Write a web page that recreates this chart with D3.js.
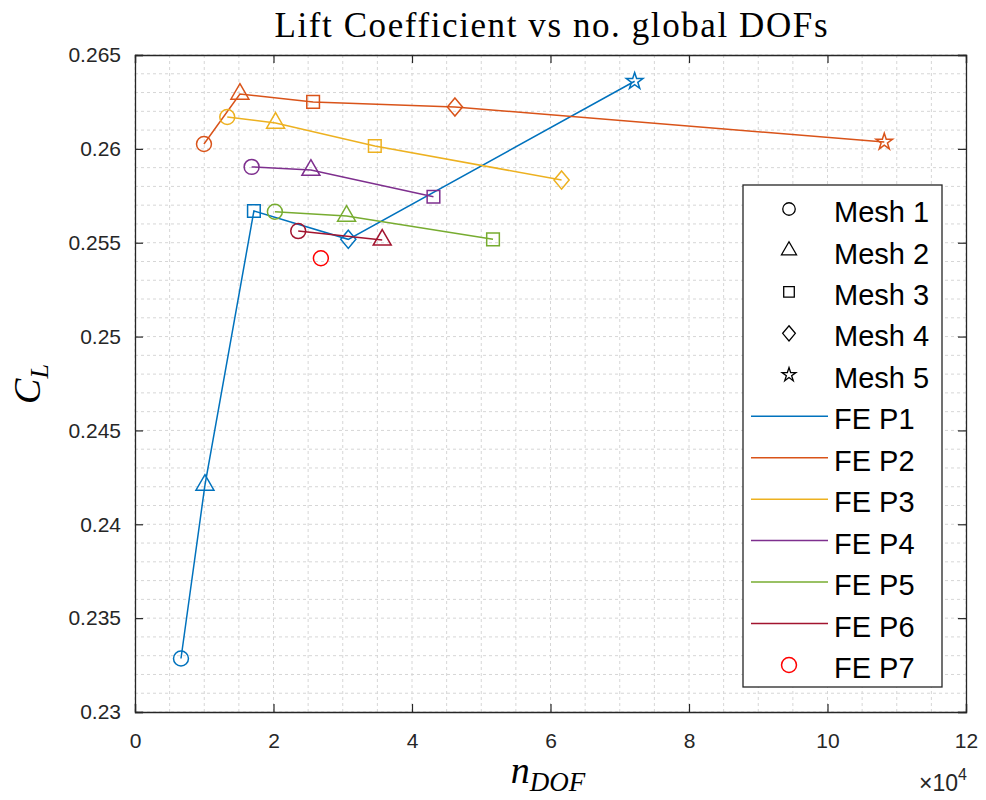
<!DOCTYPE html>
<html>
<head>
<meta charset="utf-8">
<script src="https://cdn.jsdelivr.net/npm/d3@7"></script>
<style>
  html, body { margin: 0; padding: 0; background: #fff; }
  svg { display: block; }
</style>
</head>
<body>
<svg id="chart" width="986" height="800"></svg>
<script>
// Lift coefficient against number of global DOFs, per FE order and mesh level
const seriesNames = ["FE P1", "FE P2", "FE P3", "FE P4", "FE P5", "FE P6", "FE P7"];
const seriesColors = ["#0072BD", "#D95319", "#EDB120", "#7E2F8E", "#77AC30", "#A2142F", "#FF0000"];
const meshNames = ["Mesh 1", "Mesh 2", "Mesh 3", "Mesh 4", "Mesh 5"];

const dofP1 = [6640, 10100, 17170, 30800, 72150];
const clP1  = [0.23285, 0.24209, 0.25669, 0.25518, 0.26360];
const dofP2 = [9960, 15150, 25720, 46200, 108200];
const clP2  = [0.26026, 0.26292, 0.26250, 0.26223, 0.26037];
const dofP3 = [13320, 20300, 34630, 61600];
const clP3  = [0.26170, 0.26138, 0.26015, 0.25834];
const dofP4 = [16840, 25400, 43100];
const clP4  = [0.25904, 0.25887, 0.25745];
const dofP5 = [20200, 30550, 51700];
const clP5  = [0.25665, 0.25642, 0.25518];
const dofP6 = [23570, 35700];
const clP6  = [0.25562, 0.25515];
const dofP7 = [26840];
const clP7  = [0.25417];

const xTicks = [0, 20000, 40000, 60000, 80000, 100000, 120000];
const yTicks = [0.23, 0.235, 0.24, 0.245, 0.25, 0.255, 0.26, 0.265];

const allDofs = [dofP1, dofP2, dofP3, dofP4, dofP5, dofP6, dofP7];
const allCl = [clP1, clP2, clP3, clP4, clP5, clP6, clP7];

const svg = d3.select("#chart");
const pLeft = 135, pRight = 966, pTop = 55, pBottom = 712;
const axisColor = "#262626";
const font = "'Liberation Sans', Arial, Helvetica, sans-serif";
const serif = "'Liberation Serif', 'DejaVu Serif', serif";

const x = d3.scaleLinear().domain([0, 120000]).range([pLeft, pRight]);
const y = d3.scaleLinear().domain([0.23, 0.265]).range([pBottom, pTop]);

// grid: minor and major lines, dashed light grey
const gridG = svg.append("g");
const xMinor = d3.range(0, 120001, 5000);
const yMinor = d3.range(0, 36).map(i => 0.23 + i * 0.001);
gridG.selectAll(".gx").data(xMinor).join("line")
  .attr("x1", d => x(d)).attr("x2", d => x(d))
  .attr("y1", pTop).attr("y2", pBottom)
  .attr("stroke", "#d6d6d6").attr("stroke-width", 1)
  .attr("stroke-dasharray", "3,3");
gridG.selectAll(".gy").data(yMinor).join("line")
  .attr("y1", d => y(d)).attr("y2", d => y(d))
  .attr("x1", pLeft).attr("x2", pRight)
  .attr("stroke", "#d6d6d6").attr("stroke-width", 1)
  .attr("stroke-dasharray", "3,3");

// axes with inward ticks on all four sides
const xAxisB = d3.axisBottom(x).tickValues(xTicks).tickSize(-8).tickPadding(21)
  .tickFormat(d => d3.format("d")(d / 10000));
const xAxisT = d3.axisTop(x).tickValues(xTicks).tickSize(-8).tickFormat("");
const yAxisL = d3.axisLeft(y).tickValues(yTicks).tickSize(-8).tickPadding(14)
  .tickFormat(d => String(+d.toFixed(3)));
const yAxisR = d3.axisRight(y).tickValues(yTicks).tickSize(-8).tickFormat("");

function styleAxis(g) {
  g.select(".domain").attr("stroke", axisColor).attr("stroke-width", 1.3);
  g.selectAll(".tick line").attr("stroke", axisColor).attr("stroke-width", 1.2);
  g.selectAll(".tick text").attr("fill", axisColor)
    .style("font-family", font).style("font-size", "21px");
}
svg.append("g").attr("transform", `translate(0,${pBottom})`).call(xAxisB).call(styleAxis);
svg.append("g").attr("transform", `translate(0,${pTop})`).call(xAxisT).call(styleAxis);
svg.append("g").attr("transform", `translate(${pLeft},0)`).call(yAxisL).call(styleAxis);
svg.append("g").attr("transform", `translate(${pRight},0)`).call(yAxisR).call(styleAxis);

// marker shapes per mesh level: circle, triangle, square, diamond, star
const diamond = {
  draw(ctx, size) {
    const w = Math.sqrt(size) * 0.55, h = Math.sqrt(size) * 0.66;
    ctx.moveTo(0, -h); ctx.lineTo(w, 0); ctx.lineTo(0, h); ctx.lineTo(-w, 0); ctx.closePath();
  }
};
const markerSymbols = [d3.symbolCircle, d3.symbolTriangle, d3.symbolSquare, diamond, d3.symbolStar];
const markerSizes = [175, 140, 160, 190, 85];
function marker(i, scale) {
  return d3.symbol().type(markerSymbols[i]).size(markerSizes[i] * scale)();
}

const line = d3.line().x(d => x(d[0])).y(d => y(d[1]));
const plotG = svg.append("g");
allDofs.forEach((dofs, s) => {
  const pts = dofs.map((d, i) => [d, allCl[s][i]]);
  if (pts.length > 1) {
    plotG.append("path").datum(pts).attr("d", line)
      .attr("fill", "none").attr("stroke", seriesColors[s]).attr("stroke-width", 1.5);
  }
  plotG.selectAll(null).data(pts).join("path")
    .attr("transform", d => `translate(${x(d[0])},${y(d[1])})`)
    .attr("d", (d, i) => marker(i, 1))
    .attr("fill", "none").attr("stroke", seriesColors[s]).attr("stroke-width", 1.5);
});

// legend
const lg = svg.append("g");
const lx = 743, ly = 185, lw = 199, lh = 502;
lg.append("rect").attr("x", lx).attr("y", ly).attr("width", lw).attr("height", lh)
  .attr("fill", "#fff").attr("stroke", axisColor).attr("stroke-width", 1.3);
const rowY = i => 209 + i * 41.45;
const legendText = (ry, name) => lg.append("text").attr("x", 834).attr("y", ry).attr("dy", "0.45em")
  .style("font-family", font).style("font-size", "29px").attr("fill", "#000").text(name);
meshNames.forEach((name, i) => {
  lg.append("path").attr("transform", `translate(789,${rowY(i)})`)
    .attr("d", marker(i, 0.7)).attr("fill", "none").attr("stroke", "#000").attr("stroke-width", 1.3);
  legendText(rowY(i), name);
});
seriesNames.forEach((name, s) => {
  const ry = rowY(s + 5);
  if (s < 6) {
    lg.append("line").attr("x1", 751).attr("x2", 828).attr("y1", ry).attr("y2", ry)
      .attr("stroke", seriesColors[s]).attr("stroke-width", 1.5);
  } else {
    lg.append("path").attr("transform", `translate(789,${ry})`)
      .attr("d", marker(0, 1)).attr("fill", "none").attr("stroke", seriesColors[s]).attr("stroke-width", 1.5);
  }
  legendText(ry, name);
});

// title and axis labels
svg.append("text").attr("x", 551).attr("y", 37).attr("text-anchor", "middle")
  .attr("textLength", 553).attr("lengthAdjust", "spacing")
  .style("font-family", serif).style("font-size", "35px").attr("fill", "#000")
  .text("Lift Coefficient vs no. global DOFs");

const xl = svg.append("text").attr("x", 548).attr("y", 783).attr("text-anchor", "middle")
  .style("font-family", serif).style("font-style", "italic").style("font-size", "38px").attr("fill", "#000");
xl.append("tspan").text("n");
xl.append("tspan").attr("dy", 8).style("font-size", "27px").text("DOF");

const yl = svg.append("text").attr("transform", "translate(40,384) rotate(-90)").attr("text-anchor", "middle")
  .style("font-family", serif).style("font-style", "italic").style("font-size", "38px").attr("fill", "#000");
yl.append("tspan").text("C");
yl.append("tspan").attr("dy", 8).style("font-size", "26px").text("L");

const ex = svg.append("text").attr("x", 967).attr("y", 791).attr("text-anchor", "end")
  .style("font-family", font).style("font-size", "23px").attr("fill", axisColor);
ex.append("tspan").text("\u00d710");
ex.append("tspan").attr("dy", -11).style("font-size", "16px").text("4");
</script>
</body>
</html>
